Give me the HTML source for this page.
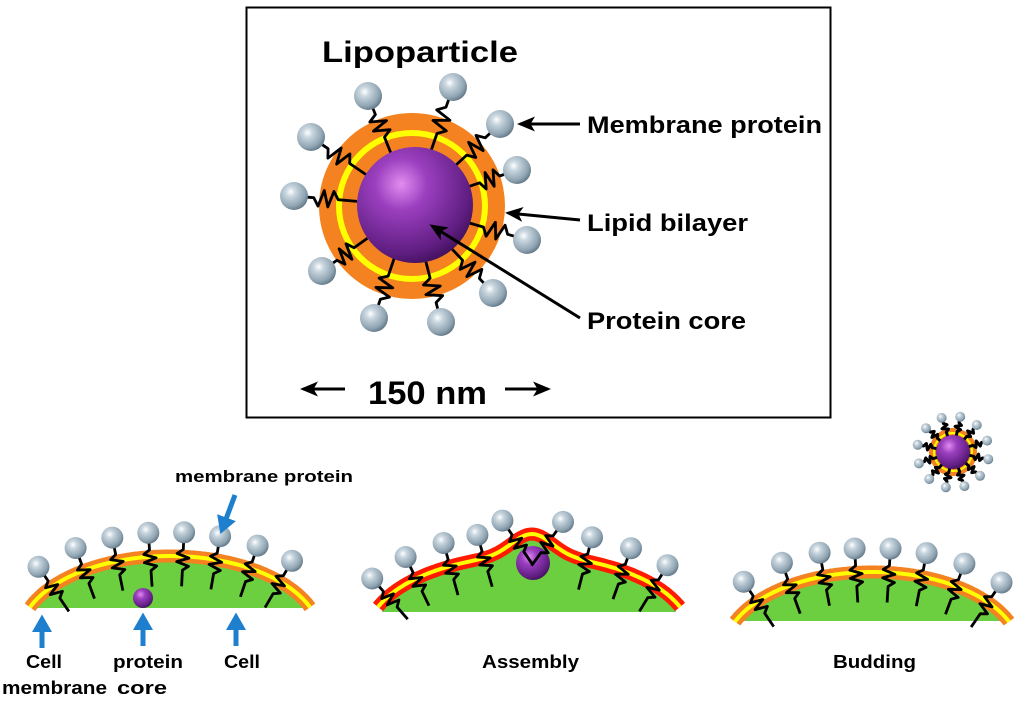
<!DOCTYPE html>
<html><head><meta charset="utf-8"><style>
body{margin:0;background:#fff;width:1024px;height:702px;overflow:hidden}
svg{display:block}
text{font-family:"Liberation Sans",Arial,sans-serif;font-weight:bold;fill:#000}
</style></head><body>
<svg id="s" width="1024" height="702" viewBox="0 0 1024 702" xmlns="http://www.w3.org/2000/svg">
<defs>
<radialGradient id="ball" cx="0.38" cy="0.35" r="0.7">
<stop offset="0" stop-color="#ffffff"/><stop offset="0.25" stop-color="#c9d6df"/><stop offset="0.75" stop-color="#8ea3b1"/><stop offset="1" stop-color="#5e7281"/></radialGradient>
<radialGradient id="core" cx="0.38" cy="0.32" r="0.75">
<stop offset="0" stop-color="#e28cf0"/><stop offset="0.3" stop-color="#9b3fbf"/><stop offset="0.8" stop-color="#5e1d80"/><stop offset="1" stop-color="#3b0e52"/></radialGradient>
<marker id="ah" markerWidth="6" markerHeight="6" refX="5" refY="3" orient="auto" markerUnits="strokeWidth"><path d="M0,0.5 L6,3 L0,5.5 L1.5,3 z" fill="#000"/></marker>
<marker id="bh" markerWidth="4" markerHeight="4" refX="2" refY="2" orient="auto" markerUnits="strokeWidth"><path d="M0,0 L3.5,2 L0,4 z" fill="#1f7fcf"/></marker>
</defs>
<rect x="246.5" y="7.5" width="584" height="410" fill="#fff" stroke="#000" stroke-width="2"/>
<g id="g"></g>
<text x="322" y="62" font-size="30" textLength="196" lengthAdjust="spacingAndGlyphs">Lipoparticle</text>
<text x="587" y="133" font-size="24" textLength="235" lengthAdjust="spacingAndGlyphs">Membrane protein</text>
<text x="587" y="231" font-size="24" textLength="161" lengthAdjust="spacingAndGlyphs">Lipid bilayer</text>
<text x="587" y="329" font-size="24" textLength="159" lengthAdjust="spacingAndGlyphs">Protein core</text>
<text x="368" y="404" font-size="32" textLength="119" lengthAdjust="spacingAndGlyphs">150 nm</text>
<line x1="580" y1="124" x2="520" y2="124" stroke="#000" stroke-width="3" marker-end="url(#ah)"/>
<line x1="580" y1="220" x2="508" y2="213" stroke="#000" stroke-width="3" marker-end="url(#ah)"/>
<line x1="580" y1="318" x2="432" y2="226" stroke="#000" stroke-width="3" marker-end="url(#ah)"/>
<line x1="345" y1="389" x2="303" y2="389" stroke="#000" stroke-width="3" marker-end="url(#ah)"/>
<line x1="505" y1="389" x2="548" y2="389" stroke="#000" stroke-width="3" marker-end="url(#ah)"/>
<text x="175" y="482" font-size="17" textLength="178" lengthAdjust="spacingAndGlyphs">membrane protein</text>
<text x="26" y="668" font-size="18" textLength="36" lengthAdjust="spacingAndGlyphs">Cell</text>
<text x="2" y="694" font-size="18" textLength="105" lengthAdjust="spacingAndGlyphs">membrane</text>
<text x="113" y="668" font-size="18" textLength="70" lengthAdjust="spacingAndGlyphs">protein</text>
<text x="117" y="694" font-size="18" textLength="50" lengthAdjust="spacingAndGlyphs">core</text>
<text x="224" y="668" font-size="18" textLength="36" lengthAdjust="spacingAndGlyphs">Cell</text>
<text x="482" y="668" font-size="18" textLength="97" lengthAdjust="spacingAndGlyphs">Assembly</text>
<text x="833" y="668" font-size="18" textLength="83" lengthAdjust="spacingAndGlyphs">Budding</text>
<g stroke="#1f7fcf" stroke-width="5" fill="none">
<line x1="42" y1="648" x2="42" y2="622" marker-end="url(#bh)"/>
<line x1="143" y1="646" x2="143" y2="620" marker-end="url(#bh)"/>
<line x1="236" y1="646" x2="236" y2="620" marker-end="url(#bh)"/>
<line x1="235" y1="495" x2="223" y2="527" marker-end="url(#bh)"/>
</g>
</svg>
<script>
var g=document.getElementById('g'),h='';
function spring(x1,y1,x2,y2,w,n,sw){
 var dx=x2-x1,dy=y2-y1,L=Math.hypot(dx,dy),px=-dy/L,py=dx/L,pts=[[x1,y1]];
 var a=0.35,b=0.8;
 pts.push([x1+dx*a,y1+dy*a]);
 for(var i=1;i<=n;i++){var t=a+(b-a)*i/(n+1);var s=(i%2?1:-1)*w;pts.push([x1+dx*t+px*s,y1+dy*t+py*s]);}
 pts.push([x1+dx*b,y1+dy*b]);pts.push([x2,y2]);
 h+='<polyline points="'+pts.map(p=>p[0].toFixed(1)+','+p[1].toFixed(1)).join(' ')+'" fill="none" stroke="#000" stroke-width="'+sw+'" stroke-linejoin="round"/>';
}
function ball(x,y,r){h+='<circle cx="'+x+'" cy="'+y+'" r="'+r+'" fill="url(#ball)"/>';}
var cx=412,cy=206;
h+='<circle cx="'+cx+'" cy="'+cy+'" r="93" fill="#f58220"/>';
h+='<circle cx="'+cx+'" cy="'+cy+'" r="73" fill="none" stroke="#ffff00" stroke-width="6"/>';
var balls=[[368,96],[453,87],[500,124],[311,137],[517,170],[294,196],[527,240],[322,271],[493,293],[374,318],[441,322]];
balls.forEach(function(b){var a=Math.atan2(b[1]-cy,b[0]-cx);spring(cx+55*Math.cos(a),cy+55*Math.sin(a),b[0]-9*Math.cos(a),b[1]-9*Math.sin(a),8,4,2.8);});
h+='<circle cx="415" cy="205" r="58" fill="url(#core)"/>';
balls.forEach(function(b){ball(b[0],b[1],14);});
var sx=953,sy=452;
h+='<circle cx="'+sx+'" cy="'+sy+'" r="24" fill="#f58220"/><circle cx="'+sx+'" cy="'+sy+'" r="19" fill="none" stroke="#ffff00" stroke-width="2"/>';
for(var i=0;i<12;i++){var a=i/12*2*Math.PI+0.2;spring(sx+14*Math.cos(a),sy+14*Math.sin(a),sx+34*Math.cos(a),sy+34*Math.sin(a),3,3,3);}
h+='<circle cx="'+sx+'" cy="'+sy+'" r="17" fill="url(#core)"/>';
for(var i=0;i<12;i++){var a=i/12*2*Math.PI+0.2;ball((sx+36*Math.cos(a)).toFixed(1),(sy+36*Math.sin(a)).toFixed(1),5);}
function membrane(ccx,ycen,rx,ry,xr,bump,gbottom,outer,xs,core){
 function B(x){return bump?bump[1]*Math.exp(-Math.pow((x-bump[0])/bump[2],2)):0;}
 function Y(x){var d=(x-ccx)/rx;if(d>1)d=1;if(d<-1)d=-1;return ycen-ry*Math.sqrt(1-d*d)-B(x);}
 function N(x){var e=0.5,dy=(Y(x+e)-Y(x-e))/(2*e),L=Math.hypot(1,dy);return [dy/L,-1/L];}
 var t0=Math.acos(xr/rx),P=[];
 for(var i=0;i<=160;i++){var th=Math.PI-t0-(Math.PI-2*t0)*i/160;var x=ccx+rx*Math.cos(th);P.push([x,ycen-ry*Math.sin(th)-B(x)]);}
 var d='M'+P.map(p=>p[0].toFixed(1)+','+p[1].toFixed(1)).join('L');
 var G=[];var rxi=rx-6,ryi=ry-6;
 for(var i=0;i<=200;i++){var th=Math.PI-Math.PI*i/200;var x=ccx+rxi*Math.cos(th);var y=ycen-ryi*Math.sin(th)-B(x);if(y<=gbottom)G.push([x,y]);}
 h+='<path d="M'+G.map(p=>p[0].toFixed(1)+','+p[1].toFixed(1)).join('L')+'L'+G[G.length-1][0].toFixed(1)+','+gbottom+'L'+G[0][0].toFixed(1)+','+gbottom+'Z" fill="#6ccf3f"/>';
 h+='<path d="'+d+'" fill="none" stroke="'+outer+'" stroke-width="13" stroke-linejoin="round"/>';
 h+='<path d="'+d+'" fill="none" stroke="#ffff00" stroke-width="4" stroke-linejoin="round"/>';
 if(core)h+='<circle cx="'+core[0]+'" cy="'+core[1]+'" r="'+core[2]+'" fill="url(#core)"/>';
 var bs=[];
 xs.forEach(function(x){var y=Y(x),n=N(x);var bx=x+n[0]*24,by=y+n[1]*24;
  spring(x-n[0]*30,y-n[1]*30,bx-n[0]*8,by-n[1]*8,6,4,2.8);bs.push([bx,by]);});
 bs.forEach(function(b){ball(b[0].toFixed(1),b[1].toFixed(1),11);});
}
membrane(170,636,150,80,140,null,608,'#f58220',[52,84,117,150,183,216,250,280],[143,598,10]);
membrane(529,636,162,80,151,[532,22,28],612,'#ff1a00',[388,416,450,484,516,549,586,623,655],[533,563,17]);
membrane(872,652,148,80,137,null,621,'#f58220',[757,790,824,856,889,922,956,988],null);
g.innerHTML=h;
</script>
</body></html>
